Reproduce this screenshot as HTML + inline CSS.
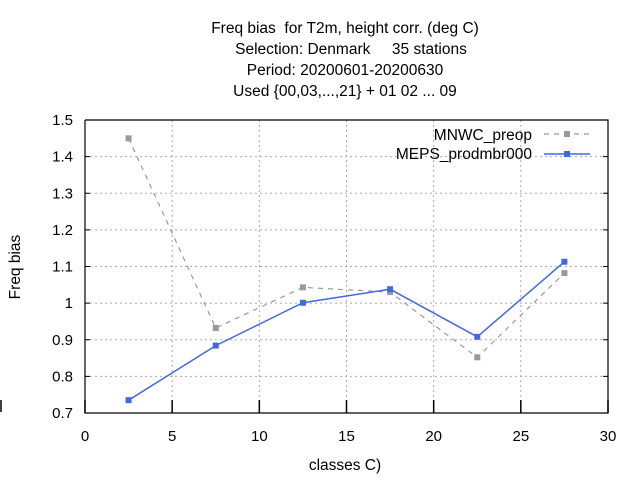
<!DOCTYPE html>
<html><head><meta charset="utf-8"><style>
body{margin:0;background:#fff}
text{font-family:"Liberation Sans",sans-serif;font-size:15px;fill:#000;white-space:pre}
.big{font-size:15.5px}
</style></head><body>
<svg width="640" height="480" id="c">
<g text-anchor="middle" class="big">
<text class="big" x="345" y="33">Freq bias  for T2m, height corr. (deg C)</text>
<text class="big" x="351" y="54">Selection: Denmark     35 stations</text>
<text class="big" x="345" y="75">Period: 20200601-20200630</text>
<text class="big" x="345" y="96">Used {00,03,...,21} + 01 02 ... 09</text>
</g>
<text class="big" x="20" y="267" text-anchor="middle" transform="rotate(-90 20 267)">Freq bias</text>
<text class="big" x="345" y="470" text-anchor="middle">classes C)</text>
<line x1="1" y1="400" x2="1" y2="412" stroke="#000" stroke-width="1.5"/>
<g id="grid"></g>
<g id="axes"></g>
<g id="series"></g>
<g>
<text class="big" x="532" y="140" text-anchor="end">MNWC_preop</text>
<line x1="544" y1="134" x2="590" y2="134" stroke="#999" stroke-dasharray="5,5" stroke-width="1.2"/>
<rect x="564" y="131" width="6" height="6" fill="#999"/>
<text class="big" x="532" y="159" text-anchor="end">MEPS_prodmbr000</text>
<line x1="544" y1="154" x2="590" y2="154" stroke="#4169e1" stroke-width="1.5"/>
<rect x="564" y="151" width="6" height="6" fill="#4169e1"/>
</g>
</svg>
<script>
const xVals=[2.5,7.5,12.5,17.5,22.5,27.5];
const mnwc=[1.45,0.932,1.043,1.03,0.852,1.082];
const meps=[0.735,0.884,1.001,1.038,0.908,1.113];
const xTicks=[0,5,10,15,20,25,30];
const yTicks=[0.7,0.8,0.9,1,1.1,1.2,1.3,1.4,1.5];
const L=85,R=608,T=120,B=413;
const sx=v=>L+(v-0)/30*(R-L), sy=v=>B-(v-0.7)/0.8*(B-T);
const NS="http://www.w3.org/2000/svg";
function mk(t,a,p){const e=document.createElementNS(NS,t);for(const k in a)e.setAttribute(k,a[k]);p.appendChild(e);return e;}
const g=document.getElementById('grid'),ax=document.getElementById('axes'),s=document.getElementById('series');
xTicks.forEach(v=>{const x=sx(v);
 if(v>0&&v<30){const l=mk('line',{x1:x,y1:T,x2:x,y2:B,stroke:'#aaa','stroke-dasharray':'2,3'},g);}
 mk('line',{x1:x,y1:B-13,x2:x,y2:B,stroke:'#000','stroke-width':1.5},ax);
 const t=mk('text',{x:x,y:441,'text-anchor':'middle'},ax);t.textContent=v;
 });
yTicks.forEach(v=>{const y=sy(v);
 if(v>0.7&&v<1.5){const l=mk('line',{x1:L,y1:y,x2:R,y2:y,stroke:'#aaa','stroke-dasharray':'2,3'},g);}
 mk('line',{x1:L,y1:y,x2:L+5,y2:y,stroke:'#000'},ax);mk('line',{x1:R-5,y1:y,x2:R,y2:y,stroke:'#000'},ax);
 const t=mk('text',{x:73,y:y+5,'text-anchor':'end'},ax);t.textContent=(v===1?'1':v.toFixed(1));
 });
mk('polyline',{points:`${L},${T} ${L},${B} ${R},${B} ${R},${T} ${L},${T}`,fill:'none',stroke:'#000','stroke-width':1.2},ax);
function series(d,col,dash,name){
 const p=mk('polyline',{points:d.map((v,i)=>sx(xVals[i])+','+sy(v)).join(' '),fill:'none',stroke:col,'stroke-width':dash?1.2:1.5},s);
 if(dash)p.setAttribute('stroke-dasharray','5,5');
 
 d.forEach((v,i)=>{const r=mk('rect',{x:sx(xVals[i])-3,y:sy(v)-3,width:6,height:6,fill:col},s);
  });
}
series(mnwc,'#999',true,'mnwc');
series(meps,'#4169e1',false,'meps');
</script>
</body></html>
